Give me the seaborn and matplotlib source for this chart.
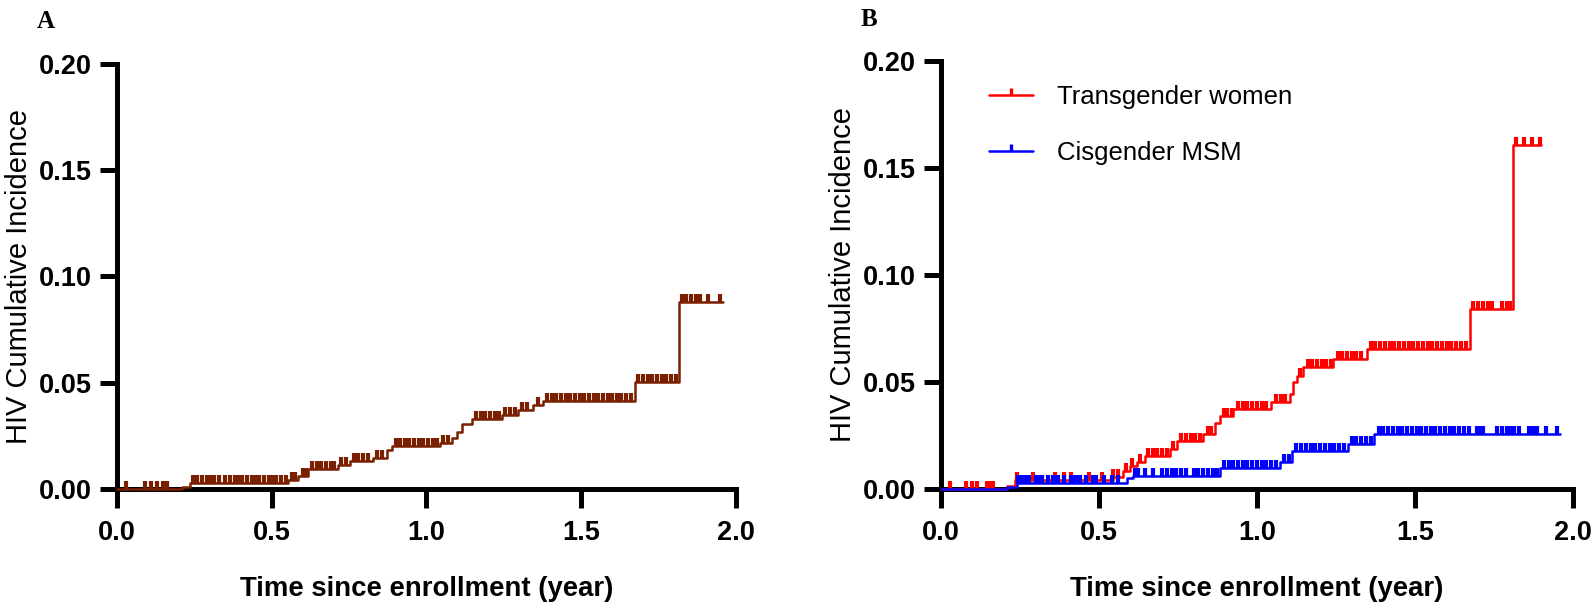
"""HIV cumulative incidence, overall (A) and by gender identity (B)."""

import numpy as np
import pandas as pd
import matplotlib
matplotlib.use('Agg')
import matplotlib.pyplot as plt
import seaborn as sns
from matplotlib.lines import Line2D
from matplotlib.ticker import FormatStrFormatter

# ---- Panel A: all participants (event times in years, cumulative incidence after the step)
a_time = [0.0, 0.21, 0.236, 0.553, 0.585, 0.617, 0.714, 0.753, 0.827, 0.872, 0.888,
          1.044, 1.082, 1.10, 1.115, 1.147, 1.244, 1.296, 1.344, 1.376, 1.674, 1.816, 1.958]
a_inc = [0.0, 0.001, 0.003, 0.0043, 0.0063, 0.0093, 0.0113, 0.0133, 0.0148, 0.0183, 0.0203,
         0.0218, 0.0238, 0.0268, 0.0305, 0.0328, 0.0348, 0.0371, 0.0393, 0.0415, 0.0505, 0.088, 0.088]
a_cens = [0.03, 0.09, 0.11, 0.13, 0.15, 0.16,
          0.245, 0.26, 0.275, 0.29, 0.30, 0.315, 0.33, 0.35, 0.365, 0.38, 0.39, 0.405, 0.42,
          0.435, 0.45, 0.46, 0.475, 0.49, 0.50, 0.515, 0.53, 0.545,
          0.565, 0.575, 0.60, 0.61, 0.63, 0.645, 0.66, 0.675, 0.69, 0.70, 0.725, 0.74,
          0.765, 0.78, 0.795, 0.81, 0.84, 0.855, 0.90, 0.915, 0.93, 0.945, 0.96, 0.975,
          0.99, 1.005, 1.02, 1.035, 1.055, 1.07, 1.16, 1.175, 1.19, 1.205, 1.22, 1.235,
          1.255, 1.27, 1.285, 1.31, 1.325, 1.36, 1.39, 1.405, 1.42, 1.435, 1.45, 1.465,
          1.48, 1.495, 1.51, 1.525, 1.54, 1.555, 1.57, 1.585, 1.60, 1.615, 1.63, 1.645,
          1.66, 1.685, 1.70, 1.715, 1.73, 1.745, 1.76, 1.775, 1.79, 1.805,
          1.825, 1.84, 1.855, 1.87, 1.885, 1.91, 1.95]

# ---- Panel B: transgender women
tw_time = [0.0, 0.208, 0.234, 0.545, 0.576, 0.598, 0.619, 0.646, 0.725, 0.746, 0.83,
           0.867, 0.883, 0.925, 1.046, 1.104, 1.115, 1.126, 1.147, 1.241, 1.347, 1.674,
           1.811, 1.90]
tw_inc = [0.0, 0.0012, 0.004, 0.0056, 0.0085, 0.0108, 0.0124, 0.0155, 0.0186, 0.0225,
          0.0256, 0.031, 0.0342, 0.0373, 0.0407, 0.0443, 0.0498, 0.0528, 0.0568, 0.0606,
          0.0656, 0.0843, 0.1606, 0.1606]
tw_cens = [0.03, 0.08, 0.097, 0.113, 0.145, 0.155, 0.165,
           0.24, 0.29, 0.36, 0.39, 0.41, 0.47, 0.51, 0.545,
           0.56, 0.585, 0.605, 0.63, 0.655, 0.67, 0.685, 0.70, 0.715, 0.735, 0.76, 0.775,
           0.79, 0.805, 0.82, 0.845, 0.855, 0.895, 0.905, 0.92, 0.94, 0.955, 0.97, 0.985,
           1.00, 1.015, 1.03, 1.06, 1.075, 1.09, 1.135, 1.16, 1.175, 1.19, 1.205, 1.22,
           1.235, 1.255, 1.27, 1.285, 1.30, 1.315, 1.33, 1.36, 1.375, 1.39, 1.405, 1.42,
           1.435, 1.45, 1.465, 1.48, 1.495, 1.51, 1.525, 1.54, 1.555, 1.57, 1.585, 1.60,
           1.615, 1.63, 1.645, 1.66, 1.685, 1.70, 1.715, 1.73, 1.745, 1.775, 1.79, 1.80,
           1.82, 1.845, 1.87, 1.895]

# ---- Panel B: cisgender MSM
msm_time = [0.0, 0.208, 0.24, 0.588, 0.609, 0.883, 1.073, 1.11, 1.289, 1.37, 1.96]
msm_inc = [0.0, 0.001, 0.003, 0.0053, 0.0063, 0.010, 0.0124, 0.0178, 0.0209, 0.0256, 0.0256]
msm_cens = [0.245, 0.255, 0.265, 0.28, 0.30, 0.31, 0.32, 0.34, 0.355, 0.365, 0.37, 0.39,
            0.41, 0.42, 0.43, 0.44, 0.46, 0.48, 0.49, 0.515, 0.54, 0.56,
            0.615, 0.625, 0.645, 0.67, 0.70, 0.715, 0.73, 0.745, 0.76, 0.775, 0.80, 0.815,
            0.83, 0.845, 0.86, 0.875, 0.895, 0.91, 0.925, 0.94, 0.955, 0.97, 0.985, 1.00,
            1.015, 1.03, 1.045, 1.06, 1.085, 1.10, 1.125, 1.14, 1.155, 1.17, 1.185, 1.20,
            1.215, 1.23, 1.245, 1.26, 1.275, 1.30, 1.315, 1.33, 1.345, 1.36, 1.385, 1.40,
            1.415, 1.43, 1.445, 1.46, 1.475, 1.49, 1.505, 1.52, 1.535, 1.55, 1.565, 1.58,
            1.595, 1.61, 1.625, 1.64, 1.655, 1.67, 1.695, 1.705, 1.715, 1.76, 1.775, 1.79,
            1.80, 1.815, 1.83, 1.86, 1.875, 1.885, 1.915, 1.95]

x_ticks = [0.0, 0.5, 1.0, 1.5, 2.0]
y_ticks = [0.00, 0.05, 0.10, 0.15, 0.20]

BROWN = '#7a1f00'
RED = '#ff0000'
BLUE = '#0000ff'
CENSOR = [(0, 0), (0, 1)]  # upward tick mark for censored observations

sns.set_theme(style='ticks')
plt.rcParams['font.family'] = ['Liberation Sans', 'DejaVu Sans']
plt.rcParams.update({'text.color': 'black', 'axes.labelcolor': 'black',
                     'xtick.color': 'black', 'ytick.color': 'black'})


def step_at(times, vals, t):
    idx = np.searchsorted(times, t, side='right') - 1
    return np.asarray(vals)[idx]


def draw_curve(ax, times, vals, cens, color):
    df = pd.DataFrame({'time': times, 'inc': vals})
    sns.lineplot(data=df, x='time', y='inc', ax=ax, color=color, lw=1.8,
                 drawstyle='steps-post', estimator=None, sort=False,
                 clip_on=False, zorder=5)
    ax.plot(cens, step_at(times, vals, cens), ls='none', marker=CENSOR,
            ms=11, mew=3.0, color=color, clip_on=False, zorder=5)


def style_axis(ax):
    sns.despine(ax=ax)
    for side in ('left', 'bottom'):
        ax.spines[side].set_linewidth(3.6)
        ax.spines[side].set_color('black')
    ax.set_xlim(0, 2)
    ax.set_ylim(0, 0.2)
    ax.set_xticks(x_ticks)
    ax.set_yticks(y_ticks)
    ax.xaxis.set_major_formatter(FormatStrFormatter('%.1f'))
    ax.yaxis.set_major_formatter(FormatStrFormatter('%.2f'))
    ax.tick_params(axis='x', length=14, width=3.6, color='black', pad=8, labelsize=19.5)
    ax.tick_params(axis='y', length=12, width=3.6, color='black', pad=6, labelsize=19.5)
    for lab in ax.get_xticklabels() + ax.get_yticklabels():
        lab.set_fontweight('bold')
    ax.set_xlabel('Time since enrollment (year)', fontsize=19.8, fontweight='bold', labelpad=22)
    ax.set_ylabel('HIV Cumulative Incidence', fontsize=21, labelpad=4)
    ax.set_facecolor('white')


fig = plt.figure(figsize=(15.94, 6.02), dpi=100)
fig.patch.set_facecolor('white')
ax_a = fig.add_axes([0.0734, 0.1877, 0.3883, 0.706])
ax_b = fig.add_axes([0.5903, 0.1877, 0.3965, 0.711])

draw_curve(ax_a, a_time, a_inc, a_cens, BROWN)
draw_curve(ax_b, tw_time, tw_inc, tw_cens, RED)
draw_curve(ax_b, msm_time, msm_inc, msm_cens, BLUE)
style_axis(ax_a)
style_axis(ax_b)

handles = [Line2D([], [], color=RED, lw=1.8, marker=CENSOR, ms=10, mew=2.4),
           Line2D([], [], color=BLUE, lw=1.8, marker=CENSOR, ms=10, mew=2.4)]
fig.legend(handles, ['Transgender women', 'Cisgender MSM'], loc='upper left',
           bbox_to_anchor=(989 / 1594, 1 - 85 / 602), frameon=False, fontsize=18.5,
           handlelength=1.7, handletextpad=0.95, labelspacing=1.25, borderpad=0,
           borderaxespad=0)

fig.text(46 / 1594, 1 - 21 / 602, 'A', fontsize=18, fontweight='bold',
         family=['Liberation Serif', 'DejaVu Serif'], ha='center', va='center')
fig.text(869 / 1594, 1 - 19 / 602, 'B', fontsize=18, fontweight='bold',
         family=['Liberation Serif', 'DejaVu Serif'], ha='center', va='center')

fig.savefig('out.png', dpi=100, facecolor='white')
plt.close(fig)
